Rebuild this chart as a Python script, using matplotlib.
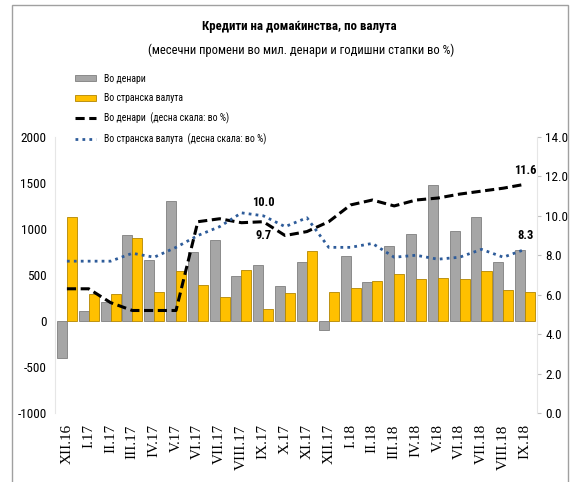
import numpy as np
import matplotlib.pyplot as plt
from matplotlib.patches import Rectangle

months = ["XII.16", "I.17", "II.17", "III.17", "IV.17", "V.17", "VI.17",
          "VII.17", "VIII.17", "IX.17", "X.17", "XI.17", "XII.17", "I.18",
          "II.18", "III.18", "IV.18", "V.18", "VI.18", "VII.18", "VIII.18",
          "IX.18"]

# monthly changes, mil. denars
denars = [-400, 110, 210, 935, 665, 1300, 755, 880, 490, 605, 385, 645,
          -100, 710, 420, 815, 950, 1480, 980, 1130, 645, 775]
foreign = [1125, 295, 295, 905, 315, 540, 390, 265, 550, 135, 300, 760,
           320, 360, 440, 510, 460, 470, 455, 545, 335, 320]

# annual growth rates, % (right scale)
denars_growth = [6.3, 6.3, 5.6, 5.2, 5.2, 5.2, 9.7, 9.85, 9.65, 9.7, 9.0,
                 9.2, 9.7, 10.55, 10.8, 10.5, 10.8, 10.9, 11.1, 11.25,
                 11.4, 11.6]
foreign_growth = [7.7, 7.7, 7.7, 8.1, 7.9, 8.4, 9.0, 9.45, 10.15, 10.0,
                  9.45, 9.9, 8.4, 8.4, 8.6, 7.9, 8.0, 7.8, 7.9, 8.3, 7.9,
                  8.3]

plt.rcParams['font.family'] = ['Roboto Condensed', 'Liberation Sans Narrow',
                               'Roboto', 'DejaVu Sans']
plt.rcParams['axes.unicode_minus'] = False

fig = plt.figure(figsize=(5.72, 4.82), dpi=100)
ax = fig.add_axes([0.096, 0.143, 0.843, 0.573])
ax2 = ax.twinx()

x = np.arange(len(months))
w = 0.46
ax.bar(x - w / 2, denars, width=w, color="#a6a6a6", edgecolor="#7f7f7f",
       linewidth=0.6, label="Во денари", zorder=2)
ax.bar(x + w / 2, foreign, width=w, color="#ffc000", edgecolor="#b38600",
       linewidth=0.6, label="Во странска валута", zorder=2)

ax2.plot(x, denars_growth, color="black", linestyle=(0, (3, 1.5)),
         linewidth=2.2, label="Во денари  (десна скала: во %)")
ax2.plot(x, foreign_growth, color="#2e5c9a", linestyle=(0, (1, 1.5)),
         linewidth=2.0, label="Во странска валута  (десна скала: во %)")

ax.set_xlim(-0.55, len(months) - 0.45)
ax.set_ylim(-1000, 2000)
ax.set_yticks(range(-1000, 2001, 500))
ax2.set_ylim(0, 14)
ax2.set_yticks(np.arange(0, 14.1, 2))
ax2.set_yticklabels([f"{v:.1f}" for v in np.arange(0, 14.1, 2)])

ax.set_xticks(x)
ax.set_xticklabels(months, rotation=90, family="Liberation Serif",
                   fontsize=11)
ax.tick_params(axis="x", length=0, pad=8)
ax.tick_params(axis="y", length=0, labelsize=9.5, pad=6)
ax2.tick_params(axis="y", length=3, color="#bfbfbf", labelsize=9.5, pad=3)

for a in (ax, ax2):
    for s in a.spines.values():
        s.set_visible(False)
ax.spines["left"].set_visible(True)
ax.spines["left"].set_color("#e6e6e6")
ax2.spines["right"].set_visible(True)
ax2.spines["right"].set_color("#e6e6e6")

# value labels
ax2.text(9, 10.0 + 0.35, "10.0", ha="center", va="bottom", fontsize=9,
         fontweight="bold")
ax2.text(9, 9.7 - 0.35, "9.7", ha="center", va="top", fontsize=9,
         fontweight="bold")
ax2.text(21, 11.6 + 0.35, "11.6", ha="center", va="bottom", fontsize=9,
         fontweight="bold")
ax2.text(21, 8.3 + 0.35, "8.3", ha="center", va="bottom", fontsize=9,
         fontweight="bold")

fig.text(0.524, 0.946, "Кредити на домаќинства, по валута", ha="center",
         va="center", fontsize=9.3, fontweight="bold")
fig.text(0.526, 0.896, "(месечни промени во мил. денари и годишни стапки во %)",
         ha="center", va="center", fontsize=9)

h1, l1 = ax.get_legend_handles_labels()
h2, l2 = ax2.get_legend_handles_labels()
fig.legend(h1 + h2, l1 + l2, loc="upper left", bbox_to_anchor=(0.115, 0.865),
           frameon=False, fontsize=7, handlelength=2.2, labelspacing=0.95,
           handleheight=0.6)

fig.patches.append(Rectangle((0.021, -0.05), 0.972, 1.04,
                             transform=fig.transFigure, fill=False,
                             edgecolor="#a0a0a0", linewidth=1))

fig.savefig("out.png", dpi=100)
